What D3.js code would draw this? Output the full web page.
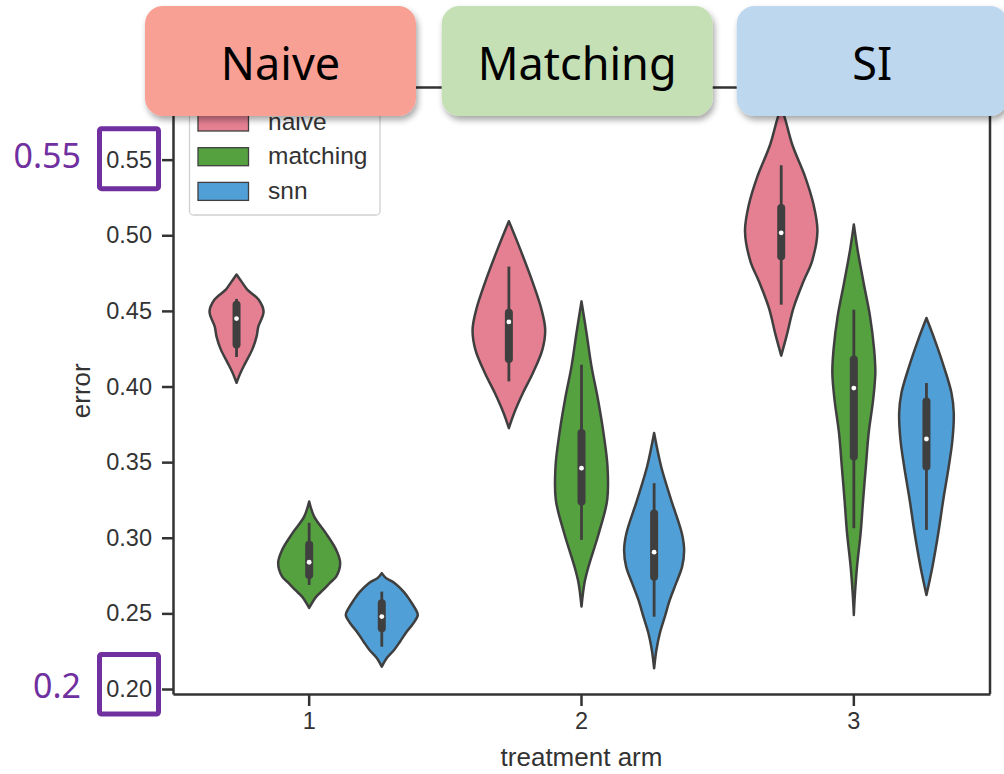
<!DOCTYPE html>
<html><head><meta charset="utf-8">
<script src="https://cdn.jsdelivr.net/npm/d3@7"></script>
<style>body{margin:0;background:#fff} svg{display:block}</style>
</head><body>
<svg id="c" width="1004" height="774"></svg>
<script>
// ---------------- data ----------------
const arms = ["1", "2", "3"];
const methods = ["naive", "matching", "snn"];
const methodColors = ["#E57F92", "#56A13F", "#519FD7"];
const yTicks = [0.20, 0.25, 0.30, 0.35, 0.40, 0.45, 0.50, 0.55];
const panelLabels = ["Naive", "Matching", "SI"];
const panelColors = ["#F9A094", "#C5E0B4", "#BDD7EE"];
const annotValues = [0.55, 0.20];
const annotLabels = ["0.55", "0.2"];

// violin outlines: [error value, relative density (1 = full hue width)]
const naiveArm1Shape = [[0.4740,0],[0.4687,0.157],[0.4641,0.295],[0.4575,0.606],[0.4495,0.744],[0.4396,0.60],[0.4330,0.551],[0.4244,0.432],[0.4158,0.248],[0.4091,0.11],[0.4025,0]];
const matchingArm1Shape = [[0.3240,0],[0.3140,0.138],[0.3032,0.455],[0.2920,0.744],[0.2834,0.854],[0.2743,0.744],[0.2702,0.57],[0.2655,0.386],[0.2609,0.19],[0.2536,0]];
const snnArm1Shape = [[0.2766,0],[0.2735,0.11],[0.2700,0.358],[0.2642,0.606],[0.2589,0.77],[0.2536,0.909],[0.2490,0.992],[0.2430,0.854],[0.2371,0.661],[0.2311,0.496],[0.2258,0.339],[0.2205,0.138],[0.2148,0]];
const naiveArm2Shape = [[0.5093,0],[0.4905,0.317],[0.4685,0.661],[0.4508,0.90],[0.4376,1.0],[0.4244,0.923],[0.4089,0.661],[0.3957,0.386],[0.3825,0.146],[0.3725,0]];
const matchingArm2Shape = [[0.4563,0],[0.4354,0.138],[0.4133,0.275],[0.3913,0.455],[0.3692,0.606],[0.3471,0.716],[0.3251,0.708],[0.3030,0.477],[0.2809,0.193],[0.2702,0.083],[0.2545,0]];
const snnArm2Shape = [[0.3692,0],[0.3471,0.193],[0.3251,0.468],[0.3030,0.763],[0.2920,0.826],[0.2809,0.771],[0.2700,0.606],[0.2589,0.432],[0.2478,0.295],[0.2369,0.157],[0.2258,0.063],[0.2137,0]];
const naiveArm3Shape = [[0.5832,0],[0.5788,0.083],[0.5600,0.303],[0.5380,0.669],[0.5203,0.89],[0.5027,0.997],[0.4828,0.848],[0.4696,0.614],[0.4520,0.339],[0.4343,0.157],[0.4204,0]];
const matchingArm3Shape = [[0.5071,0],[0.4905,0.102],[0.4685,0.27],[0.4464,0.446],[0.4244,0.559],[0.4089,0.592],[0.3913,0.532],[0.3692,0.408],[0.3471,0.331],[0.3251,0.256],[0.3030,0.187],[0.2809,0.088],[0.2589,0.02],[0.2490,0]];
const snnArm3Shape = [[0.4453,0],[0.4310,0.226],[0.4133,0.477],[0.3957,0.689],[0.3825,0.752],[0.3648,0.716],[0.3471,0.614],[0.3251,0.463],[0.3030,0.325],[0.2809,0.165],[0.2622,0]];

// inner box: [whisker low, q1, median, q3, whisker high]
const naiveArm1Box = [0.4195, 0.4277, 0.4449, 0.4541, 0.4579];
const matchingArm1Box = [0.2688, 0.2754, 0.2838, 0.2953, 0.3099];
const snnArm1Box = [0.2280, 0.2401, 0.2479, 0.2567, 0.2644];
const naiveArm2Box = [0.4034, 0.4182, 0.4427, 0.4487, 0.4793];
const matchingArm2Box = [0.2986, 0.3240, 0.3460, 0.3692, 0.4144];
const snnArm2Box = [0.2478, 0.2743, 0.2905, 0.3161, 0.3361];
const naiveArm3Box = [0.4541, 0.4861, 0.5016, 0.5181, 0.5463];
const matchingArm3Box = [0.3063, 0.3537, 0.3990, 0.4178, 0.4508];
const snnArm3Box = [0.3052, 0.3471, 0.3653, 0.3901, 0.4023];

const violins = [
  {arm:"1", method:"naive", shape:naiveArm1Shape, box:naiveArm1Box},
  {arm:"1", method:"matching", shape:matchingArm1Shape, box:matchingArm1Box},
  {arm:"1", method:"snn", shape:snnArm1Shape, box:snnArm1Box},
  {arm:"2", method:"naive", shape:naiveArm2Shape, box:naiveArm2Box},
  {arm:"2", method:"matching", shape:matchingArm2Shape, box:matchingArm2Box},
  {arm:"2", method:"snn", shape:snnArm2Shape, box:snnArm2Box},
  {arm:"3", method:"naive", shape:naiveArm3Shape, box:naiveArm3Box},
  {arm:"3", method:"matching", shape:matchingArm3Shape, box:matchingArm3Box},
  {arm:"3", method:"snn", shape:snnArm3Shape, box:snnArm3Box}
];

// ---------------- layout ----------------
const svg = d3.select("#c");
const L = 173, R = 990, T = 87.5, B = 694;
const font = "'Liberation Sans', Arial, sans-serif";
const ink = "#333";
const edge = "#3f3f3f";

const x = d3.scaleBand().domain(arms).range([L, R]).padding(0);
const hue = d3.scaleBand().domain(methods).range([-0.4 * x.step(), 0.4 * x.step()]);
const y = d3.scaleLinear().domain([0.1967, 0.5977]).range([B, T]);
const w = d3.scaleLinear().domain([0, 1]).range([0, hue.bandwidth() / 2]);
const color = d3.scaleOrdinal().domain(methods).range(methodColors);

const defs = svg.append("defs");
const f = defs.append("filter").attr("id", "sh").attr("x", "-10%").attr("y", "-10%").attr("width", "130%").attr("height", "140%");
f.append("feDropShadow").attr("dx", 2).attr("dy", 4).attr("stdDeviation", 3)
  .attr("flood-color", "#000").attr("flood-opacity", 0.35);

// violins
const area = d3.area()
  .y(d => y(d[0]))
  .x0(d => -w(d[1]))
  .x1(d => w(d[1]))
  .curve(d3.curveCatmullRom.alpha(0.5));

const vg = svg.append("g").selectAll("g").data(violins).join("g")
  .attr("transform", d => `translate(${x(d.arm) + x.bandwidth() / 2 + hue(d.method) + hue.bandwidth() / 2},0)`);
vg.append("path")
  .attr("d", d => area(d.shape))
  .attr("fill", d => color(d.method))
  .attr("stroke", edge).attr("stroke-width", 2.5).attr("stroke-linejoin", "round");
vg.append("line")
  .attr("y1", d => y(d.box[0])).attr("y2", d => y(d.box[4]))
  .attr("stroke", edge).attr("stroke-width", 2.8);
vg.append("line")
  .attr("y1", d => y(d.box[1])).attr("y2", d => y(d.box[3]))
  .attr("stroke", edge).attr("stroke-width", 8).attr("stroke-linecap", "round");
vg.append("circle")
  .attr("cy", d => y(d.box[2])).attr("r", 2.4).attr("fill", "#fff");

// frame
svg.append("path")
  .attr("d", `M${L},${T}H${R}V${B}`)
  .attr("fill", "none").attr("stroke", ink).attr("stroke-width", 2.5);

// axes
const yAxis = svg.append("g").attr("transform", `translate(${L},0)`)
  .call(d3.axisLeft(y).tickValues(yTicks).tickFormat(d3.format(".2f")).tickSize(11).tickSizeOuter(0).tickPadding(10));
const xAxis = svg.append("g").attr("transform", `translate(0,${B})`)
  .call(d3.axisBottom(x).tickSize(12).tickSizeOuter(0).tickPadding(6));
[yAxis, xAxis].forEach(a => {
  a.select(".domain").attr("stroke", ink).attr("stroke-width", 2.5);
  a.selectAll(".tick line").attr("stroke", ink).attr("stroke-width", 2.5);
  a.selectAll(".tick text").attr("fill", ink).style("font-family", font).style("font-size", "23.5px");
});

svg.append("text").attr("x", (L + R) / 2).attr("y", 766)
  .attr("text-anchor", "middle").attr("fill", ink)
  .style("font-family", font).style("font-size", "26px").text("treatment arm");
svg.append("text").attr("transform", `translate(90,${(T + B) / 2}) rotate(-90)`)
  .attr("text-anchor", "middle").attr("fill", ink)
  .style("font-family", font).style("font-size", "26px").text("error");

// legend
const lg = svg.append("g");
lg.append("rect").attr("x", 189.5).attr("y", 100).attr("width", 190.5).attr("height", 115)
  .attr("rx", 4).attr("fill", "#fff").attr("fill-opacity", 0.8).attr("stroke", "#d0d0d0").attr("stroke-width", 1.3);
const li = lg.selectAll("g.li").data(methods).join("g").attr("class", "li")
  .attr("transform", (d, i) => `translate(0,${122 + i * 34.7})`);
li.append("rect").attr("x", 198).attr("y", -9).attr("width", 50.5).attr("height", 18)
  .attr("fill", d => color(d)).attr("stroke", edge).attr("stroke-width", 1.3);
li.append("text").attr("x", 268).attr("y", 7.5).attr("fill", ink)
  .style("font-family", font).style("font-size", "24.5px").text(d => d);

// overlay method boxes
const boxW = 271, boxH = 110, boxY = 6;
const boxX = [145, 441.7, 736.7];
const pg = svg.append("g").selectAll("g").data(panelLabels).join("g")
  .attr("transform", (d, i) => `translate(${boxX[i]},${boxY})`);
pg.append("rect").attr("width", boxW).attr("height", boxH).attr("rx", 18)
  .attr("fill", (d, i) => panelColors[i]).attr("filter", "url(#sh)");
pg.append("text").attr("x", boxW / 2).attr("y", 74).attr("text-anchor", "middle")
  .attr("fill", "#000").style("font-family", "'Noto Sans', 'Open Sans', sans-serif")
  .style("font-size", "45px").text(d => d);

// purple annotations
const purple = "#7030A0";
const ag = svg.append("g").selectAll("g").data(annotValues).join("g")
  .attr("transform", d => `translate(0,${y(d)})`);
ag.append("rect").attr("x", 99.5).attr("y", (d, i) => i === 0 ? -31 : -34.5)
  .attr("width", 59).attr("height", (d, i) => i === 0 ? 60 : 59.5).attr("rx", 2)
  .attr("fill", "none").attr("stroke", purple).attr("stroke-width", 5);
ag.append("text").attr("x", 81).attr("y", (d, i) => i === 0 ? 8 : 9).attr("text-anchor", "end")
  .attr("fill", purple).style("font-family", "'Noto Sans', 'Open Sans', sans-serif")
  .style("font-size", "34px").text((d, i) => annotLabels[i]);
</script>
</body></html>
